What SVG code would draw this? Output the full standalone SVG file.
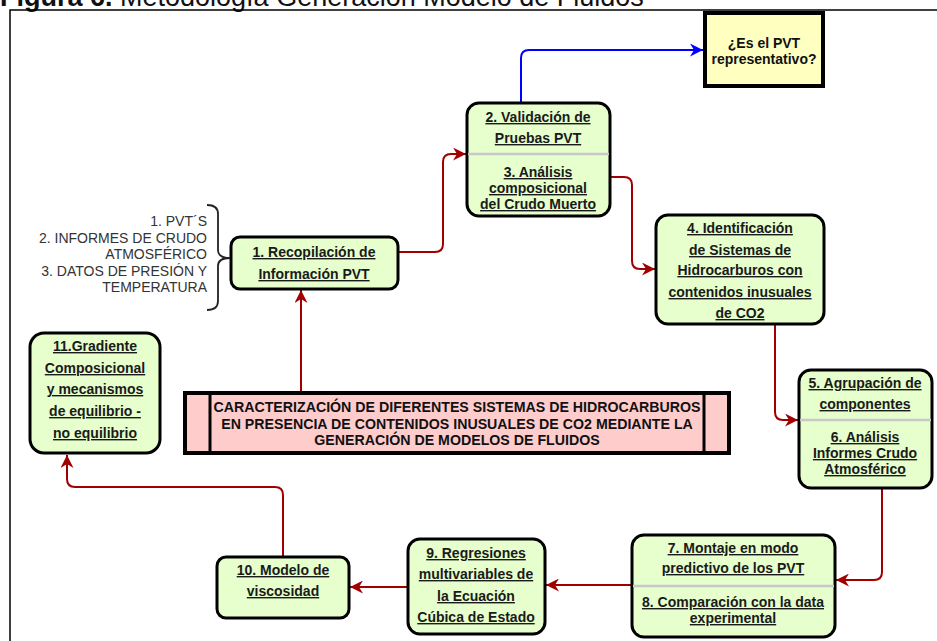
<svg xmlns="http://www.w3.org/2000/svg" width="937" height="641" viewBox="0 0 937 641">
<defs>
<style>
.node{fill:#E6FFCC;stroke:#000;stroke-width:3}
.t{font-family:"Liberation Sans",Arial,sans-serif;font-weight:bold;font-size:14px;fill:#1a1a1a;text-anchor:middle;text-decoration:underline}
.pt{font-family:"Liberation Sans",Arial,sans-serif;font-weight:bold;font-size:14.2px;fill:#111;text-anchor:middle}
.qt{font-family:"Liberation Sans",Arial,sans-serif;font-weight:bold;font-size:14px;fill:#111;text-anchor:middle}
.lt{font-family:"Liberation Sans",Arial,sans-serif;font-size:14px;fill:#333;text-anchor:end}
.div{stroke:#C8C8C8;stroke-width:2.5}
.c{fill:none;stroke:#A20000;stroke-width:2}
</style>
<marker id="ar" markerUnits="userSpaceOnUse" markerWidth="14" markerHeight="13" refX="13" refY="6.5" orient="auto" viewBox="0 0 14 13">
<path d="M0,0 L13,6.5 L0,13 L4,6.5 Z" fill="#A20000"/>
</marker>
<marker id="ab" markerUnits="userSpaceOnUse" markerWidth="14" markerHeight="13" refX="13" refY="6.5" orient="auto" viewBox="0 0 14 13">
<path d="M0,0 L13,6.5 L0,13 L4,6.5 Z" fill="#0000FF"/>
</marker>
</defs>
<rect width="937" height="641" fill="#fff"/>
<text x="0" y="6" font-family="'Liberation Sans',Arial,sans-serif" font-size="27" fill="#111"><tspan font-weight="bold">Figura 6.</tspan> Metodología Generación Modelo de Fluidos</text>
<path d="M10,641 V10 H937" fill="none" stroke="#000" stroke-width="1.5"/>

<g id="connectors">
<path class="c" d="M398,252 H435 Q443,252 443,244 V162 Q443,154 451,154 H466" marker-end="url(#ar)"/>
<path class="c" d="M610,177 H624 Q632,177 632,185 V261 Q632,269 640,269 H655" marker-end="url(#ar)"/>
<path class="c" d="M775,324 V412 Q775,420 783,420 H798" marker-end="url(#ar)"/>
<path class="c" d="M882,488 V572 Q882,580 874,580 H836" marker-end="url(#ar)"/>
<path class="c" d="M632,585 H546" marker-end="url(#ar)"/>
<path class="c" d="M408,587 H350" marker-end="url(#ar)"/>
<path class="c" d="M283,557 V495 Q283,487 275,487 H75 Q67,487 67,479 V455" marker-end="url(#ar)"/>
<path class="c" d="M301,392 V290" marker-end="url(#ar)"/>
<path d="M521,103 V58 Q521,50 529,50 H703" fill="none" stroke="#0000FF" stroke-width="2" marker-end="url(#ab)"/>
</g>

<g id="question">
<rect x="705" y="13" width="118" height="73" fill="#FFFFC0" stroke="#000" stroke-width="4"/>
<text class="qt" x="764" y="48">¿Es el PVT</text>
<text class="qt" x="764" y="64">representativo?</text>
</g>

<g id="node1">
<rect class="node" x="231" y="237" width="167" height="52" rx="9"/>
<text class="t" x="314" y="257">1. Recopilación de</text>
<text class="t" x="314" y="279">Información PVT</text>
</g>

<g id="bracket">
<path d="M207,205 Q218,205 218,214 V250 Q218,258 230,258 Q218,258 218,266 V301 Q218,310 207,310" fill="none" stroke="#222" stroke-width="1.8"/>
<text class="lt" x="207" y="226">1. PVT´S</text>
<text class="lt" x="207" y="243">2. INFORMES DE CRUDO</text>
<text class="lt" x="207" y="259">ATMOSFÉRICO</text>
<text class="lt" x="207" y="276">3. DATOS DE PRESIÓN Y</text>
<text class="lt" x="207" y="292">TEMPERATURA</text>
</g>

<g id="node2-3">
<rect class="node" x="467" y="103" width="143" height="113" rx="12"/>
<line class="div" x1="468" y1="154" x2="609" y2="154"/>
<text class="t" x="538" y="122">2. Validación de</text>
<text class="t" x="538" y="143">Pruebas PVT</text>
<text class="t" x="538" y="177">3. Análisis</text>
<text class="t" x="538" y="193">composicional</text>
<text class="t" x="538" y="209">del Crudo Muerto</text>
</g>

<g id="node4">
<rect class="node" x="656" y="215" width="168" height="109" rx="12"/>
<text class="t" x="740" y="233">4. Identificación</text>
<text class="t" x="740" y="255">de Sistemas de</text>
<text class="t" x="740" y="275">Hidrocarburos con</text>
<text class="t" x="740" y="297">contenidos inusuales</text>
<text class="t" x="740" y="318">de CO2</text>
</g>

<g id="node5-6">
<rect class="node" x="799" y="370" width="133" height="118" rx="12"/>
<line class="div" x1="800" y1="420" x2="931" y2="420"/>
<text class="t" x="865" y="388">5. Agrupación de</text>
<text class="t" x="865" y="409">componentes</text>
<text class="t" x="865" y="442">6. Análisis</text>
<text class="t" x="865" y="458">Informes Crudo</text>
<text class="t" x="865" y="474">Atmosférico</text>
</g>

<g id="node7-8">
<rect class="node" x="632" y="535" width="203" height="102" rx="12"/>
<line class="div" x1="633" y1="586" x2="834" y2="586"/>
<text class="t" x="733" y="553">7. Montaje en modo</text>
<text class="t" x="733" y="573">predictivo de los PVT</text>
<text class="t" x="733" y="607">8. Comparación con la data</text>
<text class="t" x="733" y="623">experimental</text>
</g>

<g id="node9">
<rect class="node" x="408" y="539" width="137" height="95" rx="12"/>
<text class="t" x="476" y="558">9. Regresiones</text>
<text class="t" x="476" y="579">multivariables de</text>
<text class="t" x="476" y="601">la Ecuación</text>
<text class="t" x="476" y="622">Cúbica de Estado</text>
</g>

<g id="node10">
<rect class="node" x="217" y="557" width="132" height="61" rx="9"/>
<text class="t" x="283" y="575">10. Modelo de</text>
<text class="t" x="283" y="596">viscosidad</text>
</g>

<g id="node11">
<rect class="node" x="30" y="333" width="130" height="120" rx="14"/>
<text class="t" x="95" y="351">11.Gradiente</text>
<text class="t" x="95" y="373">Composicional</text>
<text class="t" x="95" y="394">y mecanismos</text>
<text class="t" x="95" y="416">de equilibrio -</text>
<text class="t" x="95" y="438">no equilibrio</text>
</g>

<g id="main">
<rect x="185" y="393" width="544" height="60" fill="#FFCCCC" stroke="#000" stroke-width="4"/>
<line x1="210" y1="393" x2="210" y2="453" stroke="#000" stroke-width="3"/>
<line x1="704" y1="393" x2="704" y2="453" stroke="#000" stroke-width="3"/>
<text class="pt" x="457" y="412">CARACTERIZACIÓN DE DIFERENTES SISTEMAS DE HIDROCARBUROS</text>
<text class="pt" x="457" y="429">EN PRESENCIA DE CONTENIDOS INUSUALES DE CO2 MEDIANTE LA</text>
<text class="pt" x="457" y="445">GENERACIÓN DE MODELOS DE FLUIDOS</text>
</g>
</svg>
